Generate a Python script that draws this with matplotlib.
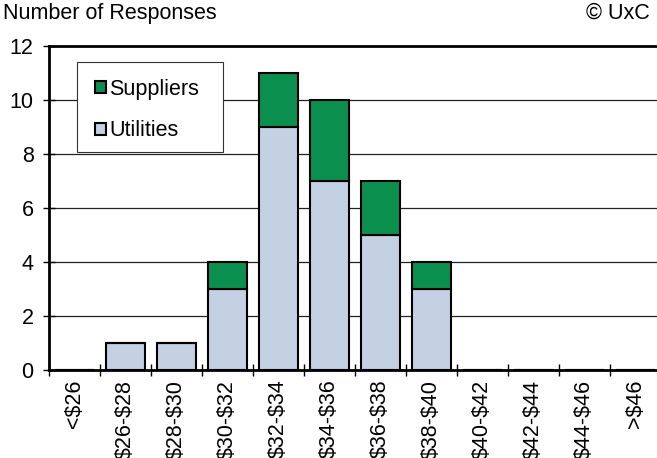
import matplotlib
matplotlib.use("Agg")
import matplotlib.pyplot as plt
from matplotlib.patches import Rectangle
import numpy as np

categories = ["<$26", "$26-$28", "$28-$30", "$30-$32", "$32-$34", "$34-$36",
              "$36-$38", "$38-$40", "$40-$42", "$42-$44", "$44-$46", ">$46"]
utilities = [0, 1, 1, 3, 9, 7, 5, 3, 0, 0, 0, 0]
suppliers = [0, 0, 0, 1, 2, 3, 2, 1, 0, 0, 0, 0]
yticks = [0, 2, 4, 6, 8, 10, 12]

plt.rcParams['font.family'] = ['Liberation Sans', 'DejaVu Sans']
plt.rcParams['text.parse_math'] = False

FS = 15.5
W, H = 657, 458
fig = plt.figure(figsize=(W / 100, H / 100), dpi=100)
left, right, top, bottom = 49, 661, 46, 370
aw, ah = right - left, bottom - top
ax = fig.add_axes([left / W, 1 - bottom / H, aw / W, ah / H])

x = np.arange(len(categories))
blue = "#C3D1E3"
green = "#0A8F4E"
ax.bar(x, utilities, width=0.78, color=blue, edgecolor="black", linewidth=1.5,
       label="Utilities", zorder=3)
ax.bar(x, suppliers, width=0.78, bottom=utilities, color=green, edgecolor="black",
       linewidth=1.5, label="Suppliers", zorder=3)

ax.set_xlim(-0.5, len(categories) - 0.5)
ax.set_ylim(0, 12)
ax.set_yticks(yticks)
ax.set_yticklabels([str(v) for v in yticks], fontsize=FS)
for v in yticks[1:-1]:
    ax.axhline(v, color="#222222", linewidth=0.9, zorder=1)

ax.set_xticks(np.arange(len(categories) + 1) - 0.5)
ax.set_xticklabels([])
ax.set_xticks(x, minor=True)
ax.set_xticklabels(categories, minor=True, rotation=90, fontsize=FS, va="top")
ax.tick_params(axis="x", which="major", direction="inout", length=8, width=1, color="black")
ax.tick_params(axis="x", which="minor", length=0, pad=7)
ax.tick_params(axis="y", direction="inout", length=8, width=1, pad=7)

for s in ["left", "top", "bottom"]:
    ax.spines[s].set_linewidth(2)
ax.spines["right"].set_visible(False)

# legend box
bx0, by0, bx1, by1 = 77, 62, 223, 152
ax.add_patch(Rectangle(((bx0 - left) / aw, 1 - (by1 - top) / ah),
                       (bx1 - bx0) / aw, (by1 - by0) / ah,
                       transform=ax.transAxes, facecolor="white", edgecolor="#333333",
                       linewidth=0.8, zorder=4))
handles, labels = ax.get_legend_handles_labels()
leg = ax.legend(handles[::-1], labels[::-1], loc="upper left",
                bbox_to_anchor=((95 - left) / aw, 1 - (79 - top) / ah),
                fontsize=FS, frameon=False,
                handlelength=0.5, handleheight=0.5, handletextpad=0.15,
                labelspacing=0.95, borderpad=0, borderaxespad=0)
leg.set_zorder(5)

fig.text(3 / W, 1 - 13 / H, "Number of Responses", fontsize=FS, ha="left", va="center")
fig.text(650 / W, 1 - 13 / H, "© UxC", fontsize=FS, ha="right", va="center")

fig.savefig("out.png", dpi=100)
